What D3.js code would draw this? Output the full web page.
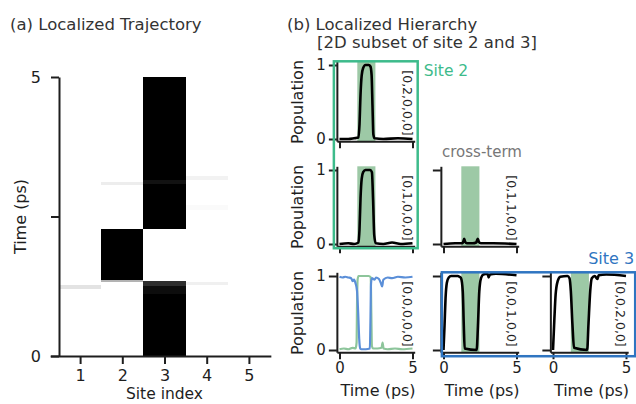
<!DOCTYPE html>
<html>
<head>
<meta charset="utf-8">
<script src="https://cdn.jsdelivr.net/npm/d3@7"></script>
<style>
    body { margin: 0; background: #fff; }
    svg { display: block; }
</style>
</head>
<body>
<div id="chart"></div>
<script>
'use strict';

// ---- panel (a): occupied intervals per site as [from ps, to ps, population]
const sites = [1, 2, 3, 4, 5];
const site1Cells = [[1.2, 1.27, 0.11]];
const site2Cells = [[1.33, 1.36, 0.3], [1.36, 2.28, 1.0], [3.06, 3.12, 0.07]];
const site3Cells = [[0, 1.12, 1.0], [1.12, 1.25, 0.95], [1.25, 1.35, 0.82],
    [2.28, 3.08, 1.0], [3.08, 3.15, 0.93], [3.15, 5, 1.0]];
const site4Cells = [[1.27, 1.32, 0.06], [2.62, 2.7, 0.02], [3.16, 3.22, 0.05]];
const site5Cells = [];
const trajTicks = [0, 2.5, 5];
const trajTickLabels = ['0', '', '5'];

// ---- panel (b): populations of the hierarchy elements over time (ps)
const hierTicksX = [0, 5];
const hierTicksY = [0, 1];
const site2Window = [1.22, 2.46];

const t20000 = [0, 0.6, 1.0, 1.3, 1.37, 1.44, 1.52, 1.62, 1.78, 2.0, 2.12, 2.2, 2.26, 2.32, 2.4, 3.0, 4.0, 5.0];
const p20000 = [0, 0, 0.01, 0.02, 0.2, 0.6, 0.86, 0.96, 1.0, 1.0, 0.98, 0.86, 0.45, 0.06, 0.01, 0, 0.01, 0];

const t10000 = [0, 0.6, 1.0, 1.3, 1.37, 1.44, 1.52, 1.62, 1.78, 2.1, 2.22, 2.3, 2.38, 2.48, 3.0, 3.6, 4.2, 5.0];
const p10000 = [0, 0.01, 0, 0.02, 0.2, 0.62, 0.88, 0.97, 1.0, 1.0, 0.97, 0.6, 0.12, 0.01, 0, 0.02, 0, 0.01];

const t01100 = [0, 0.8, 1.3, 1.37, 1.42, 1.48, 1.6, 2.0, 2.24, 2.3, 2.35, 2.42, 2.55, 3.4, 5.0];
const p01100 = [0, 0.01, 0.01, 0.04, 0.07, 0.03, 0.01, 0.01, 0.02, 0.05, 0.07, 0.03, 0.01, 0.01, 0];

const tGround2 = [0, 0.3, 0.6, 0.9, 1.1, 1.17, 1.2, 1.24, 1.3, 1.6, 2.0, 2.14, 2.18, 2.22, 2.3, 2.6, 2.88, 2.95, 3.02, 3.3, 3.8, 4.3, 5.0];
const pGround2 = [0.01, 0.02, 0.01, 0.03, 0.02, 0.1, 0.6, 0.95, 1.0, 1.0, 1.0, 0.98, 0.5, 0.05, 0.02, 0.02, 0.03, 0.1, 0.02, 0.01, 0.02, 0.01, 0.02];

const tGround3 = [0, 0.2, 0.4, 0.6, 0.8, 0.9, 1.0, 1.1, 1.2, 1.28, 1.35, 1.42, 1.5, 1.8, 2.08, 2.12, 2.16, 2.22, 2.4, 2.5, 2.7, 2.84, 2.92, 3.0, 3.3, 3.6, 4.0, 4.5, 5.0];
const pGround3 = [0.99, 0.98, 0.99, 0.98, 0.97, 0.93, 0.95, 0.9, 0.8, 0.5, 0.15, 0.02, 0.01, 0.01, 0.02, 0.4, 0.9, 0.97, 0.95, 0.98, 0.96, 0.9, 0.86, 0.95, 0.98, 0.97, 0.99, 0.98, 0.99];

const t00100 = [0, 0.07, 0.14, 0.23, 0.36, 0.52, 0.98, 1.09, 1.2, 1.32, 1.39, 1.45, 2.27, 2.36, 2.45, 2.57, 2.73, 3.02, 3.09, 3.18, 3.59, 5.0];
const p00100 = [0, 0.33, 0.7, 0.91, 0.98, 1.0, 1.0, 0.99, 0.97, 0.79, 0.33, 0.02, 0, 0.33, 0.79, 0.97, 1.02, 1.03, 0.98, 1.02, 1.03, 1.01];

const t00200 = [0, 0.09, 0.18, 0.32, 0.5, 0.99, 1.13, 1.22, 1.33, 1.44, 2.34, 2.43, 2.55, 2.66, 2.86, 3.04, 3.13, 3.65, 5.0];
const p00200 = [0, 0.4, 0.75, 0.93, 0.99, 1.0, 0.97, 0.8, 0.35, 0.03, 0, 0.35, 0.8, 0.97, 1.0, 0.96, 1.01, 1.02, 1.0];

const font = "'DejaVu Sans', sans-serif";
const ink = '#1e1e1e';
const site2Color = '#3dbb8b';
const site3Color = '#2f75c1';

const svg = d3.select('#chart').append('svg')
    .attr('width', 636)
    .attr('height', 404)
    .style('font-family', font);
svg.append('rect').attr('width', 636).attr('height', 404).attr('fill', '#fff');

const styleAxis = (g, fontSize) => {
    g.select('.domain').attr('stroke', ink).attr('stroke-width', 2);
    g.selectAll('.tick line').attr('stroke', ink).attr('stroke-width', 2);
    g.selectAll('.tick text').attr('fill', ink).style('font-size', `${fontSize}px`).style('font-family', font);
};

// ================= panel (a) =================
const xa = d3.scaleLinear().domain([0.5, 5.5]).range([59, 270]);
const ya = d3.scaleLinear().domain([0, 5]).range([356, 77]);
const grey = d3.scaleLinear().domain([0, 1]).range(['#ffffff', '#000000']);

const siteCells = [site1Cells, site2Cells, site3Cells, site4Cells, site5Cells];
siteCells.forEach((cells, i) => {
    const s = sites[i];
    svg.append('g').selectAll('rect')
        .data(cells).enter().append('rect')
        .attr('x', xa(s - 0.5))
        .attr('width', xa(s + 0.5) - xa(s - 0.5))
        .attr('y', (d) => ya(d[1]))
        .attr('height', (d) => ya(d[0]) - ya(d[1]))
        .attr('fill', (d) => grey(d[2]))
        .attr('shape-rendering', 'crispEdges');
});

const xaAxisScale = d3.scaleLinear().domain([0.29, 5.52]).range([xa(0.29), xa(5.52)]);
svg.append('g')
    .attr('transform', `translate(0, ${ya(0)})`)
    .call(d3.axisBottom(xaAxisScale).tickValues(sites).tickFormat(d3.format('d'))
        .tickSize(8).tickSizeOuter(0).tickPadding(6))
    .call((g) => styleAxis(g, 16));

svg.append('g')
    .attr('transform', `translate(${xa(0.5)}, 0)`)
    .call(d3.axisLeft(ya).tickValues(trajTicks).tickFormat((d, i) => trajTickLabels[i])
        .tickSize(8).tickSizeOuter(0).tickPadding(10))
    .call((g) => styleAxis(g, 16));

svg.append('text')
    .attr('x', 10).attr('y', 30)
    .attr('fill', '#333').style('font-size', '16.5px')
    .text('(a) Localized Trajectory');

svg.append('text')
    .attr('transform', `translate(20, ${ya(2.5)}) rotate(-90)`)
    .attr('text-anchor', 'middle').attr('dominant-baseline', 'central')
    .attr('fill', ink).style('font-size', '16px')
    .text('Time (ps)');

svg.append('text')
    .attr('x', xa(3)).attr('y', 399)
    .attr('text-anchor', 'middle')
    .attr('fill', ink).style('font-size', '15.5px')
    .text('Site index');

// ================= panel (b) =================
svg.append('text')
    .attr('x', 287).attr('y', 30)
    .attr('fill', '#333').style('font-size', '16.5px')
    .text('(b) Localized Hierarchy');
svg.append('text')
    .attr('x', 317).attr('y', 48)
    .attr('fill', '#333').style('font-size', '16.5px')
    .text('[2D subset of site 2 and 3]');

const colX0 = [339.5, 443.5, 553];   // where t = 0 sits in each column
const rowY0 = [139, 244, 350];       // where population 0 sits in each row
const pxPerPs = 14.6;
const pxPerPop = 74;
const tDomain = [-0.18, 5.15];
const pDomain = [-0.03, 1.05];

const panels = [
    {row: 0, col: 0, tag: '[0,2,0,0,0]', band: true, yLabels: true, xLabels: false,
        series: [{t: t20000, p: p20000, color: '#000'}]},
    {row: 1, col: 0, tag: '[0,1,0,0,0]', band: true, yLabels: true, xLabels: false,
        series: [{t: t10000, p: p10000, color: '#000'}]},
    {row: 1, col: 1, tag: '[0,1,1,0,0]', band: true, yLabels: false, xLabels: false,
        series: [{t: t01100, p: p01100, color: '#000'}]},
    {row: 2, col: 0, tag: '[0,0,0,0,0]', band: false, yLabels: true, xLabels: true,
        series: [{t: tGround2, p: pGround2, color: '#8dc59b'}, {t: tGround3, p: pGround3, color: '#5b8fd8'}]},
    {row: 2, col: 1, tag: '[0,0,1,0,0]', band: true, yLabels: false, xLabels: true,
        series: [{t: t00100, p: p00100, color: '#000'}]},
    {row: 2, col: 2, tag: '[0,0,2,0,0]', band: true, yLabels: false, xLabels: true,
        series: [{t: t00200, p: p00200, color: '#000'}]},
];

const scalesFor = (row, col) => {
    const x0 = colX0[col];
    const y0 = rowY0[row];
    const x = d3.scaleLinear().domain(tDomain)
        .range([x0 + tDomain[0] * pxPerPs, x0 + tDomain[1] * pxPerPs]);
    const y = d3.scaleLinear().domain(pDomain)
        .range([y0 - pDomain[0] * pxPerPop, y0 - pDomain[1] * pxPerPop]);
    return {x, y};
};

for (const panel of panels) {
    const {x, y} = scalesFor(panel.row, panel.col);
    const g = svg.append('g');

    if (panel.band) {
        g.append('rect')
            .attr('x', x(site2Window[0]))
            .attr('width', x(site2Window[1]) - x(site2Window[0]))
            .attr('y', y(pDomain[1]))
            .attr('height', y(pDomain[0]) - y(pDomain[1]))
            .attr('fill', '#9dc9a6');
    }

    for (const s of panel.series) {
        const pts = s.t.map((t, i) => [t, s.p[i]]);
        g.append('path')
            .datum(pts)
            .attr('fill', 'none')
            .attr('stroke', s.color)
            .attr('stroke-width', s.color === '#000' ? 2.6 : 2.2)
            .attr('stroke-linejoin', 'round')
            .attr('d', d3.line().x((d) => x(d[0])).y((d) => y(d[1])).curve(d3.curveMonotoneX));
    }

    g.append('g')
        .attr('transform', `translate(0, ${y(pDomain[0])})`)
        .call(d3.axisBottom(x).tickValues(hierTicksX)
            .tickFormat(panel.xLabels ? d3.format('d') : () => '')
            .tickSize(7).tickSizeOuter(0).tickPadding(3))
        .call((a) => styleAxis(a, 15));

    g.append('g')
        .attr('transform', `translate(${x(tDomain[0])}, 0)`)
        .call(d3.axisLeft(y).tickValues(hierTicksY)
            .tickFormat(panel.yLabels ? d3.format('d') : () => '')
            .tickSize(8).tickSizeOuter(0).tickPadding(3))
        .call((a) => styleAxis(a, 15));

    g.append('text')
        .attr('transform', `translate(${x(tDomain[1]) - 7.5}, ${y(pDomain[1]) + 9}) rotate(90)`)
        .attr('dominant-baseline', 'central')
        .attr('fill', ink).style('font-size', '12.5px')
        .text(panel.tag);

    if (panel.yLabels) {
        svg.append('text')
            .attr('transform', `translate(297, ${(y(0) + y(1)) / 2}) rotate(-90)`)
            .attr('text-anchor', 'middle').attr('dominant-baseline', 'central')
            .attr('fill', ink).style('font-size', '16px')
            .text('Population');
    }
    if (panel.xLabels) {
        svg.append('text')
            .attr('x', (x(0) + x(5)) / 2 + 2).attr('y', 396)
            .attr('text-anchor', 'middle')
            .attr('fill', ink).style('font-size', '16px')
            .text('Time (ps)');
    }
}

// cross-term caption
{
    const {x, y} = scalesFor(1, 1);
    svg.append('text')
        .attr('x', (x(0) + x(5)) / 2 + 2).attr('y', y(pDomain[1]) - 9)
        .attr('text-anchor', 'middle')
        .attr('fill', '#777').style('font-size', '15px')
        .text('cross-term');
}

// site boxes
{
    const a = scalesFor(0, 0);
    const b = scalesFor(1, 0);
    const left = a.x(tDomain[0]) - 3;
    const right = a.x(tDomain[1]) + 3;
    const top = a.y(pDomain[1]);
    const bottom = b.y(pDomain[0]) + 2;
    svg.append('rect')
        .attr('x', left).attr('y', top)
        .attr('width', right - left).attr('height', bottom - top)
        .attr('fill', 'none').attr('stroke', site2Color).attr('stroke-width', 2.5);
    svg.append('text')
        .attr('x', right + 6).attr('y', top + 15)
        .attr('fill', site2Color).style('font-size', '15.5px')
        .text('Site 2');
}
{
    const a = scalesFor(2, 1);
    const c = scalesFor(2, 2);
    const left = a.x(tDomain[0]) + 1;
    const right = c.x(tDomain[1]) + 7;
    const top = a.y(pDomain[1]);
    const bottom = a.y(pDomain[0]) + 4;
    svg.append('rect')
        .attr('x', left).attr('y', top)
        .attr('width', right - left).attr('height', bottom - top)
        .attr('fill', 'none').attr('stroke', site3Color).attr('stroke-width', 2.5);
    svg.append('text')
        .attr('x', right - 1).attr('y', top - 8)
        .attr('text-anchor', 'end')
        .attr('fill', site3Color).style('font-size', '16px')
        .text('Site 3');
}
</script>
</body>
</html>
